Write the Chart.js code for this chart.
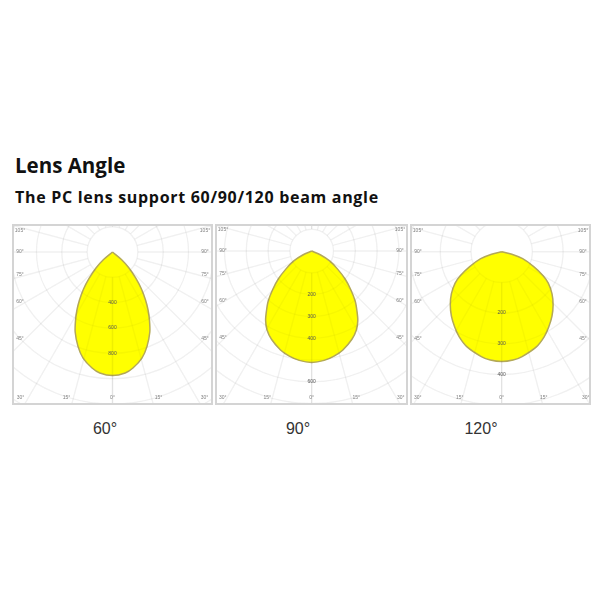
<!DOCTYPE html>
<html>
<head>
<meta charset="utf-8">
<script src="https://cdn.jsdelivr.net/npm/chart.js@4"></script>
<style>
  html, body { margin: 0; padding: 0; background: #fff; }
  body { position: relative; width: 600px; height: 600px; overflow: hidden; }
  h1, h2, .caption { position: absolute; margin: 0; white-space: nowrap; }
  h1 { left: 15px; top: 150px; font: 700 20.5px/30px "Open Sans", sans-serif; color: #111; }
  h2 { left: 15px; top: 185px; font: 700 16px/24px "Open Sans", sans-serif; letter-spacing: 0.7px; color: #111; }
  .panel { position: absolute; border: 2px solid #d4d4d4; box-sizing: border-box; }
  .panel canvas { display: block; filter: blur(0.4px); }
  .caption { top: 419px; font: 16px/20px "Liberation Sans", sans-serif; color: #333; transform: translateX(-50%); }
</style>
</head>
<body>
<h1>Lens Angle</h1>
<h2>The PC lens support 60/90/120 beam angle</h2>
<div class="panel" id="panel0"><canvas id="chart0"></canvas></div>
<div class="panel" id="panel1"><canvas id="chart1"></canvas></div>
<div class="panel" id="panel2"><canvas id="chart2"></canvas></div>
<div class="caption" style="left:105px">60°</div>
<div class="caption" style="left:298px">90°</div>
<div class="caption" style="left:481px">120°</div>
<script>
// beam curves, right half only: angle from straight down -> intensity
const angles60 = [0, 6, 10, 15.5, 20, 25, 28.5, 31.5, 34.5, 38, 41.5, 46, 50, 60];
const values60 = [975, 960, 930, 869, 795, 697, 611, 537, 460, 371, 279, 181, 92, 0];
const angles90 = [0, 6.5, 12, 17.5, 24.5, 29.5, 33.5, 37, 41, 45.5, 50, 55, 61, 66, 90];
const values90 = [511, 505, 493, 476, 445, 416, 383, 345, 304, 250, 200, 145, 94, 45, 0];
const angles120 = [0, 6, 11, 20, 26.5, 32, 38, 44, 50, 56, 60, 65, 71.5, 76, 90];
const values120 = [358, 355, 348, 330, 310, 289, 266, 241, 214, 183, 155, 115, 72, 34, 0];

// rings and labels
const rings60 = [200, 400, 600, 800, 1000, 1200, 1400];
const rings90 = [100, 200, 300, 400, 500, 600, 700];
const rings120 = [100, 200, 300, 400, 500];
const ringLabels60 = [400, 600, 800];
const ringLabels90 = [200, 300, 400, 600];
const ringLabels120 = [200, 300, 400];
const spokeAngles = [0, 15, 30, 45, 60, 75, 90, 105, 120, 135, 150, 165, 180];
const sideLabels = [45, 60, 75, 90, 105];
const bottomLabels = [30, 15, 0, 15, 30];

const GRID = 'rgba(0,0,0,0.03)';
const LABEL = '#808080';
const SIDE_OFFSETS = [87, 50, 23, 0, -21]; // px below the centre, one per sideLabels

function toXY(angles, values) {
  const right = angles.map((a, i) => {
    const t = a * Math.PI / 180;
    return { x: values[i] * Math.sin(t), y: -values[i] * Math.cos(t) };
  });
  // left side is the mirror, walk tip -> bottom -> tip
  const left = right.slice(1).reverse().map(p => ({ x: -p.x, y: p.y }));
  return left.concat(right);
}

function strokeGrid(chart, opts) {
  const { ctx, chartArea, scales } = chart;
  const cx = scales.x.getPixelForValue(0);
  const cy = scales.y.getPixelForValue(0);
  const px = v => scales.x.getPixelForValue(v) - cx;
  ctx.save();
  ctx.beginPath();
  ctx.rect(chartArea.left, chartArea.top, chartArea.width, chartArea.height);
  ctx.clip();
  ctx.strokeStyle = GRID;
  ctx.lineWidth = 1.5;
  opts.rings.forEach(v => {
    ctx.beginPath();
    ctx.arc(cx, cy, px(v), 0, Math.PI * 2);
    ctx.stroke();
  });
  const inner = px(opts.rings[0]);
  const outer = px(opts.rings[opts.rings.length - 1]) * 1.5;
  spokeAngles.forEach(a => {
    [1, -1].forEach(side => {
      const t = a * Math.PI / 180;
      ctx.beginPath();
      ctx.moveTo(cx + side * inner * Math.sin(t), cy + inner * Math.cos(t));
      ctx.lineTo(cx + side * outer * Math.sin(t), cy + outer * Math.cos(t));
      ctx.stroke();
    });
  });
  ctx.restore();
}

// grid stroked twice: under the yellow and again over it, so it is only faint inside the beam
const polarGrid = {
  id: 'polarGrid',
  beforeDatasetsDraw(chart, args, opts) {
    strokeGrid(chart, opts);
  },
  afterDatasetsDraw(chart, args, opts) {
    strokeGrid(chart, opts);
    const { ctx, chartArea, scales } = chart;
    const cx = scales.x.getPixelForValue(0);
    const cy = scales.y.getPixelForValue(0);
    ctx.save();
    ctx.font = '5px "Liberation Sans", sans-serif';
    ctx.textAlign = 'center';
    ctx.textBaseline = 'middle';
    ctx.fillStyle = '#555';
    opts.ringLabels.forEach(v => {
      ctx.fillText(String(v), cx, scales.y.getPixelForValue(-v));
    });
    ctx.fillStyle = LABEL;
    sideLabels.forEach((a, i) => {
      const y = cy + SIDE_OFFSETS[i];
      ctx.fillText(a + '°', chartArea.left + 6, y);
      ctx.fillText(a + '°', chartArea.right - 6, y);
    });
    bottomLabels.forEach((a, i) => {
      ctx.fillText(a + '°', cx + (i - 2) * opts.bottomStep, chartArea.bottom - 5);
    });
    ctx.restore();
  }
};

function drawPanel(idx, box, unitPx, centre, angles, values, rings, ringLabels, bottomStep) {
  const panel = document.getElementById('panel' + idx);
  panel.style.left = box[0] + 'px';
  panel.style.top = box[1] + 'px';
  panel.style.width = box[2] + 'px';
  panel.style.height = box[3] + 'px';
  const innerW = box[2] - 4;
  const innerH = box[3] - 4;
  const canvas = document.getElementById('chart' + idx);
  canvas.width = innerW;
  canvas.height = innerH;
  canvas.style.width = innerW + 'px';
  canvas.style.height = innerH + 'px';
  const left = box[0] + 2;
  const top = box[1] + 2;
  new Chart(canvas.getContext('2d'), {
    type: 'scatter',
    data: {
      datasets: [{
        data: toXY(angles, values),
        showLine: true,
        tension: 0.3,
        fill: 'shape',
        backgroundColor: '#ffff00',
        borderColor: '#b3a858',
        borderWidth: 1.5,
        pointRadius: 0
      }]
    },
    options: {
      responsive: false,
      animation: false,
      devicePixelRatio: 1,
      layout: { padding: 0 },
      plugins: {
        legend: { display: false },
        tooltip: { enabled: false },
        polarGrid: { rings, ringLabels, bottomStep }
      },
      scales: {
        x: { type: 'linear', display: false,
             min: (left - centre[0]) / unitPx, max: (left + innerW - centre[0]) / unitPx },
        y: { type: 'linear', display: false,
             min: (centre[1] - top - innerH) / unitPx, max: (centre[1] - top) / unitPx }
      }
    },
    plugins: [polarGrid]
  });
}

drawPanel(0, [12, 224, 201, 181], 0.1267, [112.5, 252], angles60, values60, rings60, ringLabels60, 46);
drawPanel(1, [215, 224, 193, 181], 0.218, [311.7, 251], angles90, values90, rings90, ringLabels90, 44.5);
drawPanel(2, [410, 224, 181, 181], 0.307, [501.7, 251.7], angles120, values120, rings120, ringLabels120, 42);
</script>
</body>
</html>
